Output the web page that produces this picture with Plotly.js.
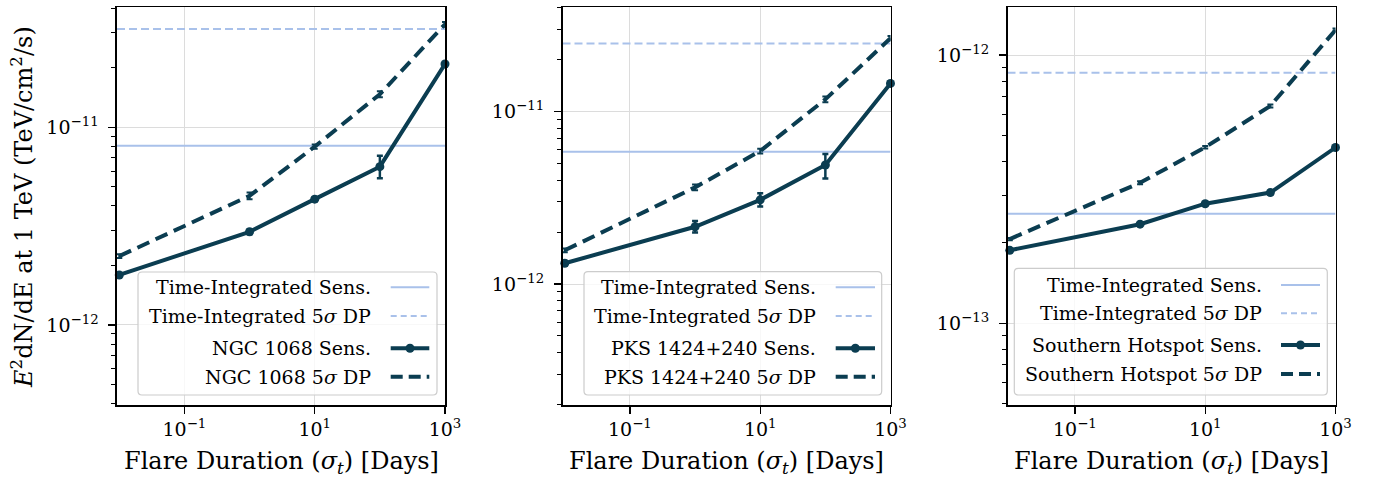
<!DOCTYPE html>
<html>
<head>
<meta charset="utf-8">
<script src="https://cdn.plot.ly/plotly-3.0.1.min.js"></script>
<style>html,body{margin:0;padding:0;background:#fff;}#chart{width:1378px;height:481px;}</style>
</head>
<body>
<div id="chart"></div>
<script>
// ---------------- data ----------------
const flareDays = [0.01, 1, 10, 100, 1000];

const sourceNames = ["NGC 1068", "PKS 1424+240", "Southern Hotspot"];

const tiSens = [8.07e-12, 5.86e-12, 2.56e-13];
const tiDP   = [3.14e-11, 2.49e-11, 8.59e-13];

const ngcSens    = [1.79e-12, 2.96e-12, 4.33e-12, 6.32e-12, 2.09e-11];
const ngcSensErr = [0.03e-12, 0.08e-12, 0.10e-12, 0.86e-12, 0.40e-12];
const ngcSensErrLo = [0.03e-12, 0.08e-12, 0.10e-12, 0.80e-12, 0.40e-12];
const ngcDP      = [2.23e-12, 4.50e-12, 7.98e-12, 1.47e-11, 3.32e-11];
const ngcDPErr   = [0.05e-12, 0.18e-12, 0.20e-12, 0.50e-12, 0.90e-12];

const pksSens    = [1.32e-12, 2.15e-12, 3.08e-12, 4.91e-12, 1.46e-11];
const pksSensErr = [0.04e-12, 0.17e-12, 0.28e-12, 0.78e-12, 0.40e-12];
const pksSensErrLo = [0.04e-12, 0.16e-12, 0.26e-12, 0.81e-12, 0.40e-12];
const pksDP      = [1.57e-12, 3.64e-12, 5.91e-12, 1.18e-11, 2.67e-11];
const pksDPErr   = [0.04e-12, 0.14e-12, 0.18e-12, 0.45e-12, 0.80e-12];

const shSens    = [1.87e-13, 2.34e-13, 2.79e-13, 3.07e-13, 4.52e-13];
const shSensErr = [0.02e-13, 0.03e-13, 0.04e-13, 0.05e-13, 0.06e-13];
const shDP      = [2.06e-13, 3.34e-13, 4.53e-13, 6.46e-13, 1.24e-12];
const shDPErr   = [0.02e-13, 0.04e-13, 0.05e-13, 0.08e-13, 0.15e-13];

const xTickVals = [0.1, 10, 1000];
const xTickText = ["10<sup>−1</sup>", "10<sup>1</sup>", "10<sup>3</sup>"];
const yTickVals = [[1e-12, 1e-11], [1e-12, 1e-11], [1e-13, 1e-12]];
const yTickText = [["10<sup>−12</sup>", "10<sup>−11</sup>"], ["10<sup>−12</sup>", "10<sup>−11</sup>"], ["10<sup>−13</sup>", "10<sup>−12</sup>"]];

// ---------------- style ----------------
const W = 1378, H = 481;
const dark = "#0b3d51";
const light = "#a9c1ea";
const FONT = "DejaVu Serif, serif";
const xRangeLog = [-2.035, 3.0];
const yRanges = [[-12.405, -10.393], [-12.702, -10.394], [-13.305, -11.822]];
const domX = [[117, 445], [562.5, 890.5], [1007.5, 1335.5]];
const domYpx = [7.3, 405];

const px = v => v / W;
const py = v => 1 - v / H;

const sens = [ngcSens, pksSens, shSens];
const sensErr = [ngcSensErr, pksSensErr, shSensErr];
const sensErrLo = [ngcSensErrLo, pksSensErrLo, shSensErr];
const dp = [ngcDP, pksDP, shDP];
const dpErr = [ngcDPErr, pksDPErr, shDPErr];

const traces = [];
const layout = {
  width: W, height: H,
  margin: {l: 0, r: 0, t: 0, b: 0},
  paper_bgcolor: "#fff", plot_bgcolor: "#fff",
  showlegend: false,
  font: {family: FONT, size: 19, color: "#000"},
  shapes: [], annotations: []
};

const minorVals = [];
for (let e = -15; e <= -9; e++) for (let m = 2; m <= 9; m++) minorVals.push(m * Math.pow(10, e));

const xEdges = [Math.pow(10, xRangeLog[0]), Math.pow(10, xRangeLog[1])];

for (let i = 0; i < 3; i++) {
  const xa = i === 0 ? "x" : "x" + (i + 1);
  const ya = i === 0 ? "y" : "y" + (i + 1);
  const xk = i === 0 ? "xaxis" : "xaxis" + (i + 1);
  const yk = i === 0 ? "yaxis" : "yaxis" + (i + 1);

  layout[xk] = {
    type: "log", range: xRangeLog, domain: [px(domX[i][0]), px(domX[i][1])],
    anchor: ya, showline: true, mirror: true, linecolor: "#000", linewidth: 1.6,
    ticks: "outside", ticklen: 7, tickwidth: 1.2, tickcolor: "#000",
    tickmode: "array", tickvals: xTickVals, ticktext: xTickText,
    showgrid: true, gridcolor: "#dcdcdc", gridwidth: 1, zeroline: false,
    tickfont: {family: FONT, size: 19, color: "#000"}
  };
  layout[yk] = {
    type: "log", range: yRanges[i], domain: [py(domYpx[1]), py(domYpx[0])],
    anchor: xa, showline: true, mirror: true, linecolor: "#000", linewidth: 1.6,
    ticks: "outside", ticklen: 7, tickwidth: 1.2, tickcolor: "#000",
    tickmode: "array", tickvals: yTickVals[i], ticktext: yTickText[i],
    ticklabelstandoff: 6,
    showgrid: true, gridcolor: "#dcdcdc", gridwidth: 1, zeroline: false,
    tickfont: {family: FONT, size: 19, color: "#000"},
    minor: {ticks: "outside", ticklen: 4, tickwidth: 1, tickcolor: "#000", tickmode: "array", tickvals: minorVals, showgrid: false}
  };

  // time-integrated lines
  traces.push({x: xEdges, y: [tiSens[i], tiSens[i]], xaxis: xa, yaxis: ya, mode: "lines",
    line: {color: light, width: 2}, hoverinfo: "skip", name: "Time-Integrated Sens."});
  traces.push({x: xEdges, y: [tiDP[i], tiDP[i]], xaxis: xa, yaxis: ya, mode: "lines",
    line: {color: light, width: 2, dash: "8px,4px"}, hoverinfo: "skip", name: "Time-Integrated 5σ DP"});
  // sensitivity
  traces.push({x: flareDays, y: sens[i], xaxis: xa, yaxis: ya, mode: "lines+markers",
    line: {color: dark, width: 4}, marker: {color: dark, size: 9},
    error_y: {type: "data", array: sensErr[i], arrayminus: sensErrLo[i], color: dark, thickness: 2.5, width: 3},
    cliponaxis: false, name: sourceNames[i] + " Sens."});
  // discovery potential
  traces.push({x: flareDays, y: dp[i], xaxis: xa, yaxis: ya, mode: "lines",
    line: {color: dark, width: 4, dash: "13px,7px"},
    error_y: {type: "data", array: dpErr[i], color: dark, thickness: 2, width: 3},
    cliponaxis: false, name: sourceNames[i] + " 5σ DP"});

  // x axis title
  layout.annotations.push({xref: "paper", yref: "paper", x: px((domX[i][0] + domX[i][1]) / 2), y: py(462),
    xanchor: "center", yanchor: "middle", showarrow: false,
    text: "Flare Duration (<i>σ</i><sub><i>t</i></sub>) [Days]", font: {family: FONT, size: 24, color: "#000"}});
}

// y axis title
layout.annotations.push({xref: "paper", yref: "paper", x: px(22), y: py(207), textangle: -90,
  xanchor: "center", yanchor: "middle", showarrow: false,
  text: "<i>E</i><sup>2</sup>dN/dE at 1 TeV (TeV/cm<sup>2</sup>/s)", font: {family: FONT, size: 24, color: "#000"}});

// custom legends (matplotlib style: handles on the right)
const legBoxes = [[138, 272, 437, 395], [584, 271.7, 881.7, 395], [1014.3, 268.3, 1327.3, 395]];
const legRows = [[287.3, 316, 348.3, 376.7], [287.3, 316, 348.3, 376.7], [285, 313.3, 345, 374]];
const legTextRight = [373.3, 818.3, 1264];
const legSample = [[390.7, 429.3], [835.7, 875], [1281, 1320]];

function roundRectPath(x0, y0, x1, y1, r) {
  const X = v => px(v), Y = v => py(v);
  return "M " + X(x0 + r) + "," + Y(y0) +
    " L " + X(x1 - r) + "," + Y(y0) + " Q " + X(x1) + "," + Y(y0) + " " + X(x1) + "," + Y(y0 + r) +
    " L " + X(x1) + "," + Y(y1 - r) + " Q " + X(x1) + "," + Y(y1) + " " + X(x1 - r) + "," + Y(y1) +
    " L " + X(x0 + r) + "," + Y(y1) + " Q " + X(x0) + "," + Y(y1) + " " + X(x0) + "," + Y(y1 - r) +
    " L " + X(x0) + "," + Y(y0 + r) + " Q " + X(x0) + "," + Y(y0) + " " + X(x0 + r) + "," + Y(y0) + " Z";
}

for (let i = 0; i < 3; i++) {
  const b = legBoxes[i];
  layout.shapes.push({type: "path", xref: "paper", yref: "paper", layer: "above",
    path: roundRectPath(b[0], b[1], b[2], b[3], 4),
    fillcolor: "rgba(255,255,255,0.8)", line: {color: "#cccccc", width: 1.2}});
  const labels = ["Time-Integrated Sens.", "Time-Integrated 5<i>σ</i> DP",
    sourceNames[i] + " Sens.", sourceNames[i] + " 5<i>σ</i> DP"];
  const styles = [
    {color: light, width: 2, dash: "solid"},
    {color: light, width: 2, dash: "6px,4px"},
    {color: dark, width: 4, dash: "solid"},
    {color: dark, width: 4, dash: "12px,6px"}
  ];
  for (let r = 0; r < 4; r++) {
    const yy = legRows[i][r];
    layout.annotations.push({xref: "paper", yref: "paper", x: px(legTextRight[i]), y: py(yy),
      xanchor: "right", yanchor: "middle", showarrow: false, text: labels[r],
      font: {family: FONT, size: 19, color: "#000"}});
    layout.shapes.push({type: "line", xref: "paper", yref: "paper", layer: "above",
      x0: px(legSample[i][0]), x1: px(legSample[i][1]), y0: py(yy), y1: py(yy), line: styles[r]});
  }
  const mx = (legSample[i][0] + legSample[i][1]) / 2, my = legRows[i][2];
  layout.shapes.push({type: "circle", xref: "paper", yref: "paper", layer: "above",
    x0: px(mx - 4.5), x1: px(mx + 4.5), y0: py(my + 4.5), y1: py(my - 4.5),
    fillcolor: dark, line: {color: dark, width: 0}});
}

Plotly.newPlot("chart", traces, layout, {displayModeBar: false, staticPlot: true});
</script>
</body>
</html>
